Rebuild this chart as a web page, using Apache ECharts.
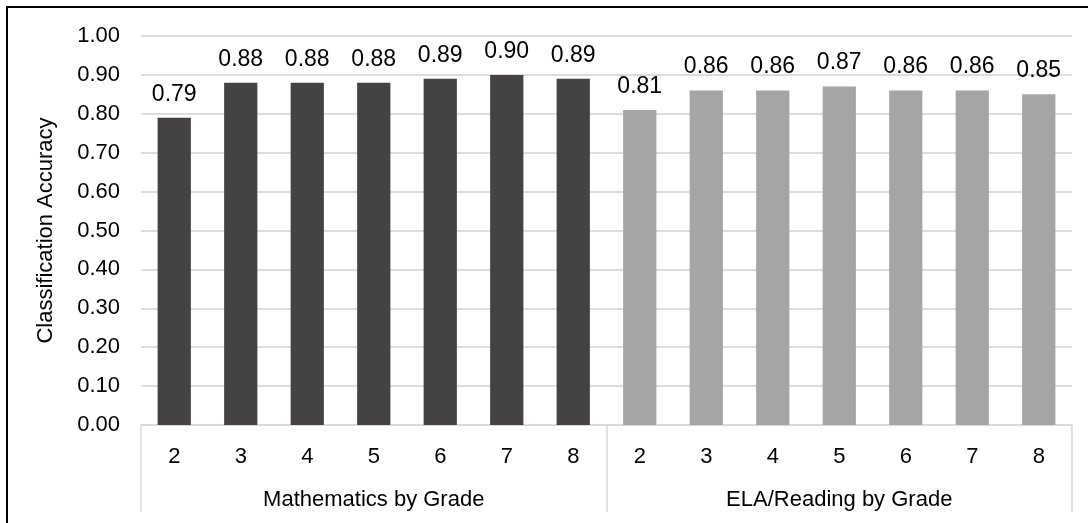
<!DOCTYPE html>
<html>
<head>
<meta charset="utf-8">
<script src="https://cdn.jsdelivr.net/npm/echarts@6/dist/echarts.min.js"></script>
<style>
  html, body { margin: 0; padding: 0; background: #fff; }
  #wrap { position: relative; width: 1088px; height: 523px; }
  #chart { position: absolute; left: 0; top: 0; width: 1088px; height: 523px; }
  #frame { position: absolute; left: 6px; top: 6px; right: -10px; bottom: -10px; border-left: 2px solid #000; border-top: 2px solid #000; pointer-events: none; }
</style>
</head>
<body>
<div id="wrap"><div id="chart"></div><div id="frame"></div></div>
<script>
const grades = ['2', '3', '4', '5', '6', '7', '8'];
const groups = ['Mathematics by Grade', 'ELA/Reading by Grade'];
const mathValues = [0.79, 0.88, 0.88, 0.88, 0.89, 0.90, 0.89];
const elaValues = [0.81, 0.86, 0.86, 0.87, 0.86, 0.86, 0.85];
const groupColors = ['#444243', '#a5a5a5'];
const yTicks = [0, 0.1, 0.2, 0.3, 0.4, 0.5, 0.6, 0.7, 0.8, 0.9, 1.0];

const categories = grades.concat(grades);
const seriesData = mathValues.map(v => ({ value: v, itemStyle: { color: groupColors[0] } }))
  .concat(elaValues.map(v => ({ value: v, itemStyle: { color: groupColors[1] } })));

const FONT = 'Liberation Sans, Arial, sans-serif';
const chart = echarts.init(document.getElementById('chart'), null, { renderer: 'canvas' });
chart.setOption({
  animation: false,
  backgroundColor: '#fff',
  grid: { left: 141, right: 16, top: 36, bottom: 98, containLabel: false },
  xAxis: [
    {
      type: 'category',
      data: categories,
      position: 'bottom',
      axisLine: { show: true, lineStyle: { color: '#d9d9d9', width: 1.5 } },
      axisTick: { show: false },
      axisLabel: { margin: 21, fontSize: 22, color: '#000', fontFamily: FONT, interval: 0 }
    },
    {
      type: 'category',
      data: groups,
      position: 'bottom',
      offset: 0,
      axisLine: { show: false },
      axisTick: { show: true, length: 87, interval: 0, lineStyle: { color: '#d9d9d9', width: 1.5 } },
      axisLabel: { margin: 64, fontSize: 22, color: '#000', fontFamily: FONT, interval: 0 }
    }
  ],
  yAxis: {
    type: 'value',
    min: yTicks[0],
    max: yTicks[yTicks.length - 1],
    interval: 0.1,
    name: 'Classification Accuracy',
    nameLocation: 'middle',
    nameGap: 84,
    nameTextStyle: { fontSize: 22, color: '#000', fontFamily: FONT },
    axisLine: { show: false },
    axisTick: { show: false },
    axisLabel: { margin: 21, fontSize: 22, color: '#000', fontFamily: FONT, formatter: v => v.toFixed(2) },
    splitLine: { show: true, lineStyle: { color: '#dcdcdc', width: 2 } }
  },
  series: [{
    type: 'bar',
    xAxisIndex: 0,
    data: seriesData,
    barWidth: '50%',
    label: {
      show: true,
      position: 'top',
      distance: 12,
      fontSize: 23,
      color: '#000',
      fontFamily: FONT,
      formatter: p => p.value.toFixed(2)
    }
  }]
});
</script>
</body>
</html>
